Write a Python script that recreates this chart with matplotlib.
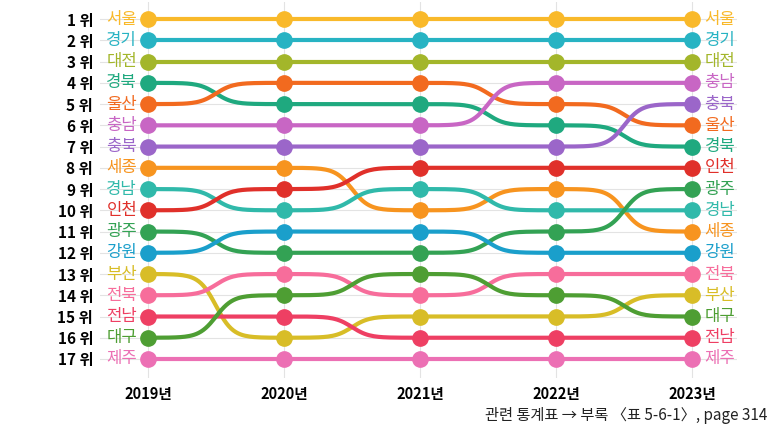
import numpy as np
import matplotlib
matplotlib.use("Agg")
import matplotlib.pyplot as plt

plt.rcParams['font.family'] = ['Noto Sans CJK KR', 'DejaVu Sans']

years = [2019, 2020, 2021, 2022, 2023]
year_labels = ['2019년', '2020년', '2021년', '2022년', '2023년']
regions = ['서울', '경기', '대전', '경북', '울산', '충남', '충북', '세종', '경남',
           '인천', '광주', '강원', '부산', '전북', '전남', '대구', '제주']
colors = ['#F9B92A', '#27B3C3', '#A3B62A', '#1FA97F', '#F26A1F', '#C866C4',
          '#9B66C9', '#F7941F', '#30B9AA', '#E0302A', '#33A254', '#1A9FCB',
          '#D8BD27', '#F76D9B', '#EE3F63', '#4E9E33', '#EC70B4']
# rank of each region (same order as regions) per year
rank_2019 = [1, 2, 3, 4, 5, 6, 7, 8, 9, 10, 11, 12, 13, 14, 15, 16, 17]
rank_2020 = [1, 2, 3, 5, 4, 6, 7, 8, 10, 9, 12, 11, 16, 13, 15, 14, 17]
rank_2021 = [1, 2, 3, 5, 4, 6, 7, 10, 9, 8, 12, 11, 15, 14, 16, 13, 17]
rank_2022 = [1, 2, 3, 6, 5, 4, 7, 9, 10, 8, 11, 12, 15, 13, 16, 14, 17]
rank_2023 = [1, 2, 3, 7, 6, 4, 5, 11, 10, 8, 9, 12, 14, 13, 16, 15, 17]
ranks = np.array([rank_2019, rank_2020, rank_2021, rank_2022, rank_2023]).T


def bump(xs, ys, smooth=8, n=60):
    # sigmoid segments between consecutive points
    px, py = [], []
    s = np.linspace(-smooth, smooth, n)
    w = 1 / (1 + np.exp(-s))
    w = (w - w[0]) / (w[-1] - w[0])
    for i in range(len(xs) - 1):
        px.extend(np.linspace(xs[i], xs[i + 1], n))
        py.extend(ys[i] + (ys[i + 1] - ys[i]) * w)
    return px, py


fig = plt.figure(figsize=(7.81, 4.30), dpi=100)
ax = fig.add_axes([0.128, 0.121, 0.816, 0.874])

for i, name in enumerate(regions):
    px, py = bump(years, ranks[i])
    ax.plot(px, py, color=colors[i], lw=3.0, solid_capstyle='round', zorder=3)
    ax.plot(years, ranks[i], 'o', color=colors[i], ms=11, zorder=4)
    ax.text(2018.92, ranks[i][0], name, color=colors[i], fontsize=12,
            ha='right', va='center', zorder=5)
    ax.text(2023.09, ranks[i][-1], name, color=colors[i], fontsize=12,
            ha='left', va='center', zorder=5)

ax.set_xlim(2018.647, 2023.331)
ax.set_ylim(17.894, 0.2)
ax.set_yticks(range(1, 18))
ax.set_yticklabels([f'{r} 위' for r in range(1, 18)], fontsize=11,
                   fontweight='bold')
ax.set_xticks(years)
ax.set_xticklabels(year_labels, fontsize=10.5, fontweight='bold')
ax.tick_params(length=0, pad=5)
ax.tick_params(axis='x', pad=6)
ax.grid(True, color='#e3e3e3', lw=0.8, zorder=0)
for sp in ax.spines.values():
    sp.set_visible(False)

fig.text(0.982, 0.033, '관련 통계표 → 부록 〈표 5-6-1〉, page 314', ha='right',
         va='center', fontsize=11, color='#222222')

fig.savefig('out.png', dpi=100)
